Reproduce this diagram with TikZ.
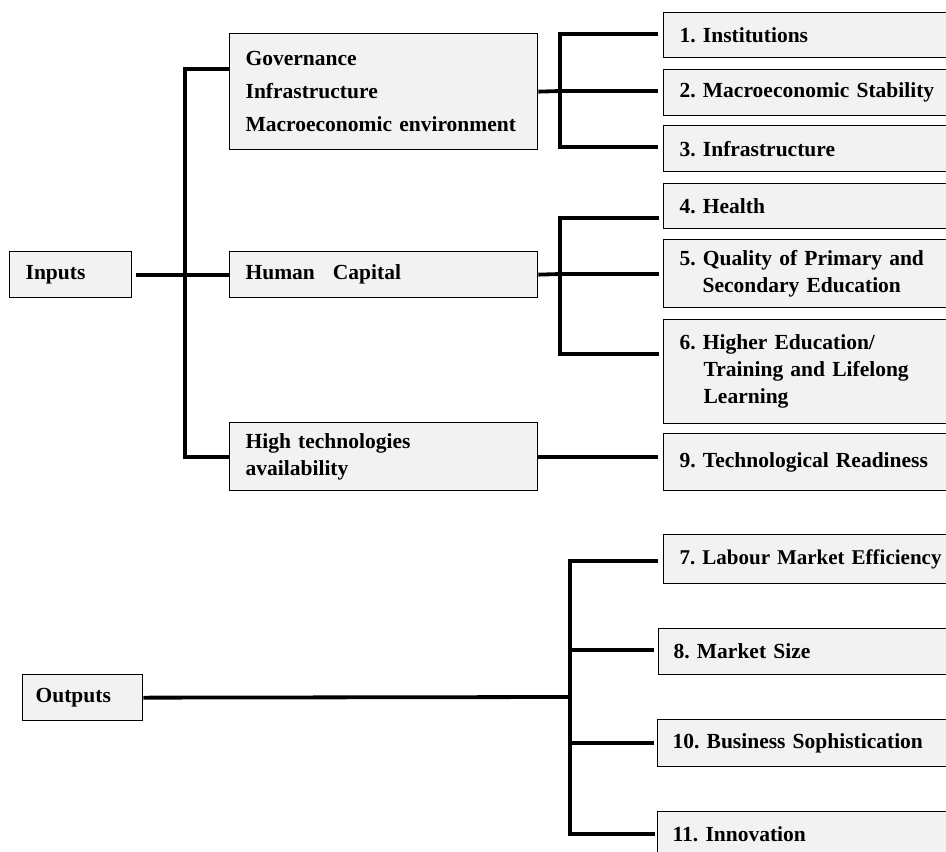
\documentclass[tikz,border=0pt]{standalone}
\usepackage{fontspec}
\setmainfont{Liberation Serif}
\frenchspacing
\tikzset{
  box/.style={draw=black, line width=1.3pt, fill=black!5, anchor=north west,
    inner xsep=16pt, inner ysep=0pt, align=left,
    font=\bfseries\fontsize{21.5}{27}\selectfont\frenchspacing},
  rbox/.style={box, text width=280pt},
  conn/.style={line width=3.8pt, draw=black},
  tipgap/.style={shorten >=4pt},
}
\begin{document}
\begin{tikzpicture}[x=1pt,y=-1pt]
\useasboundingbox (0,0) rectangle (946,852);
\clip (0,0) rectangle (946,852);
% left column
\node[box, text width=90pt, minimum height=46pt] (inputs) at (9,251) {Inputs};
\node[box, text width=94pt, minimum height=46pt, inner xsep=13pt] (out) at (22,674) {Outputs};
% middle column
\node[box, text width=276pt, minimum height=116pt] (gov) at (229,33)
  {Governance\\[6pt]Infrastructure\\[6pt]Macroeconomic environment};
\node[box, text width=276pt, minimum height=46pt] (hc) at (229,251) {Human\hspace{18pt}Capital};
\node[box, text width=276pt, minimum height=68pt] (ht) at (229,422) {High technologies\\availability};
% right column (boxes run past the right edge)
\node[rbox, minimum height=45pt] (inst) at (663,12) {1. Institutions};
\node[rbox, minimum height=46pt] (macro) at (663,69) {2. Macroeconomic Stability};
\node[rbox, minimum height=46pt] (infra) at (663,125) {3. Infrastructure};
\node[rbox, minimum height=45pt] (health) at (663,183) {4. Health};
\node[rbox, minimum height=68pt] (qual) at (663,239)
  {5. Quality of Primary and\\\hspace*{23pt}Secondary Education};
\node[rbox, minimum height=104pt] (higher) at (663,319)
  {6. Higher Education/\\\hspace*{24pt}Training and Lifelong\\\hspace*{24pt}Learning};
\node[rbox, minimum height=57pt] (tech) at (663,433) {9. Technological Readiness};
\node[rbox, minimum height=49pt, font=\bfseries\fontsize{21}{27}\selectfont\frenchspacing] (lab) at (663,534) {7. Labour Market Efficiency};
\node[rbox, minimum height=46pt, inner xsep=15pt] (msize) at (658,628) {8. Market Size};
\node[rbox, minimum height=47pt, inner xsep=15pt] (bus) at (657,719) {10. Business Sophistication};
\node[rbox, minimum height=46pt, inner xsep=15pt] (inno) at (657,811) {11. Innovation};
% branch points
\coordinate (tin) at (185,274);
\coordinate (g1) at (560,91);
\coordinate (h1) at (560,274);
\coordinate (o1) at (570,697);
% inputs tree
\draw[conn, shorten <=4pt] (inputs.east) -- (hc.west);
\draw[conn] ([yshift=23pt]gov.west) -| (tin) |- (ht.west);
% governance branch
\draw[conn] (gov.east) -- (g1);
\draw[conn, shorten >=5pt] (g1) |- ([yshift=1.5pt]inst.west);
\draw[conn, shorten >=5pt] (g1) -- (g1 -| macro.west);
\draw[conn, shorten >=5pt] (g1) |- ([yshift=2pt]infra.west);
% human capital branch
\draw[conn] (hc.east) -- (h1);
\draw[conn, tipgap] (h1) |- ([yshift=-12pt]health.west);
\draw[conn, tipgap] (h1) -- (h1 -| qual.west);
\draw[conn, tipgap] (h1) |- ([yshift=18pt]higher.west);
% technology branch
\draw[conn, shorten >=5pt] (ht.east) -- (ht.east -| tech.west);
% outputs tree
\draw[conn] (out.east) -- (o1);
\draw[conn, shorten >=5pt] (o1) |- ([yshift=-1.5pt]lab.west);
\draw[conn, tipgap] (o1) |- ([yshift=2pt]msize.west);
\draw[conn, shorten >=3pt] (o1) |- (bus.west);
\draw[conn, shorten >=2pt] (o1) |- ([yshift=1pt]inno.west);
\end{tikzpicture}
\end{document}
